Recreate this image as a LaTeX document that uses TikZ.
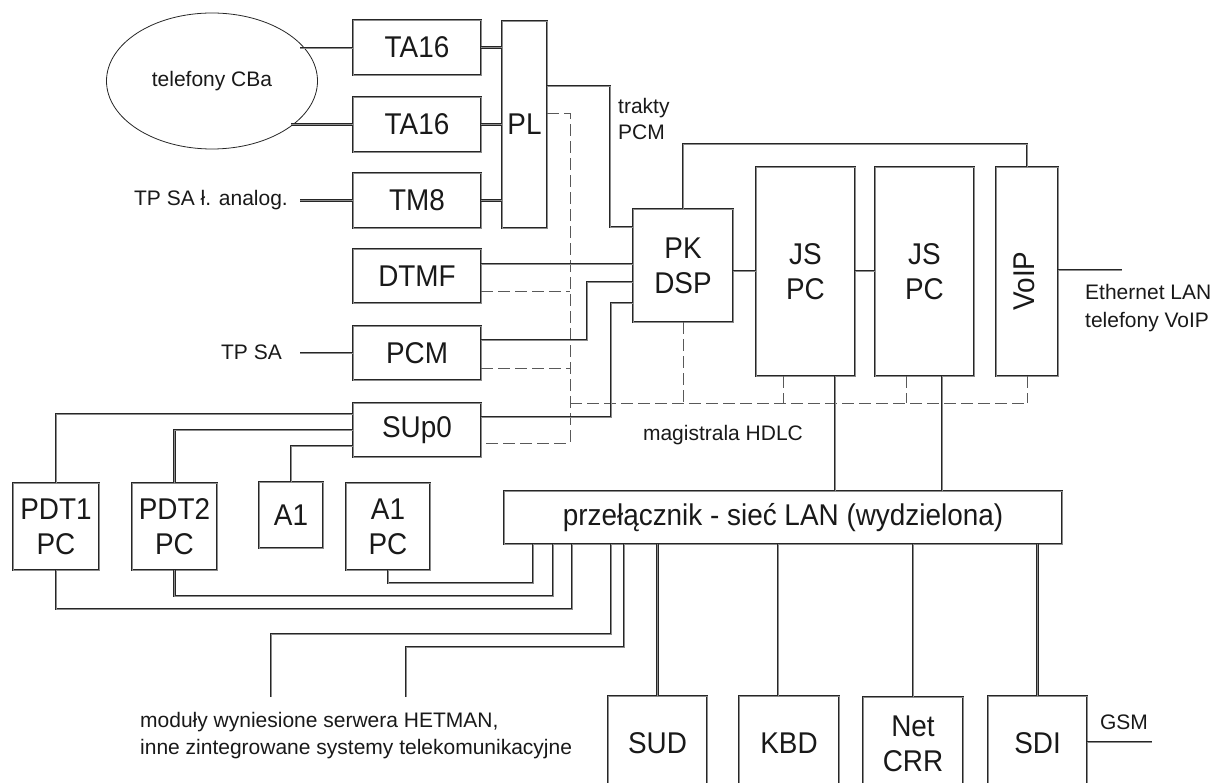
\documentclass[tikz,border=0pt]{standalone}
\usepackage{fontspec}
\setmainfont{Liberation Sans}
\newfontfamily\narrowf{Liberation Sans}[FakeStretch=0.93]
\usetikzlibrary{shapes.geometric}
\newcommand\bigf{\narrowf\fontsize{30}{35}\selectfont}
\newcommand\smf{\fontsize{21}{27}\selectfont}
\begin{document}
\begin{tikzpicture}[x=1pt,y=-1pt,
  ln/.style={draw=black!85, line width=0.85pt, double=black!45, double distance=0.8pt},
  box/.style={ln, rectangle, inner sep=0pt, font=\bigf, align=center, text=black!90},
  dsh/.style={draw=black!65, line width=0.9pt, dash pattern=on 12pt off 5pt},
  lbl/.style={font=\smf, inner sep=0pt, text=black!90, align=left}]
\useasboundingbox (0,0) rectangle (1213,783);

% ---------- nodes ----------
\node[ellipse, draw=black!85, line width=0.8pt, minimum width=211, minimum height=136, inner sep=0pt, font=\smf, text=black!90] (cba) at (212,81) {telefony CBa};

\node[box, minimum width=128, minimum height=55] (ta1) at (417,47.5) {TA16};
\node[box, minimum width=128, minimum height=55] (ta2) at (417,124.5) {TA16};
\node[box, minimum width=128, minimum height=55] (tm8) at (417,200.5) {TM8};
\node[box, minimum width=128, minimum height=54] (dtmf) at (417,276) {DTMF};
\node[box, minimum width=128, minimum height=54] (pcm) at (417,353) {PCM};
\node[box, minimum width=128, minimum height=54] (sup) at (417,430) {SUp0};
\node[box, minimum width=45, minimum height=207] (pl) at (524.5,124.5) {PL};

\node[box, minimum width=100, minimum height=113] (pk) at (683,265.5) {PK\\DSP};
\node[box, minimum width=99, minimum height=209] (js1) at (805.5,271.5) {JS\\PC};
\node[box, minimum width=99, minimum height=209] (js2) at (924.5,271.5) {JS\\PC};
\node[box, minimum width=62, minimum height=209] (voip) at (1027,271.5) {};
\node[font=\bigf, rotate=90, inner sep=0pt, text=black!90] (voipt) at (1024,281) {VoIP};

\node[box, minimum width=558, minimum height=53] (sw) at (783,517.5) {przełącznik - sieć LAN (wydzielona)};

\node[box, minimum width=86, minimum height=87] (pdt1) at (56,526.5) {PDT1\\PC};
\node[box, minimum width=85, minimum height=87] (pdt2) at (174.5,526.5) {PDT2\\PC};
\node[box, minimum width=64, minimum height=66] (a1) at (291,515) {A1};
\node[box, minimum width=84, minimum height=87] (a1pc) at (388,526.5) {A1\\PC};

\node[box, minimum width=99, minimum height=94] (sud) at (657.5,743) {SUD};
\node[box, minimum width=100, minimum height=94] (kbd) at (789,743) {KBD};
\node[box, minimum width=100, minimum height=94] (net) at (913,744) {Net\\CRR};
\node[box, minimum width=99, minimum height=94] (sdi) at (1037.5,743) {SDI};

% ---------- labels ----------
\node[lbl, anchor=east] (tpa) at (288,200) {TP SA ł. analog.};
\node[lbl, anchor=east] (tps) at (282,352) {TP SA};
\node[lbl, anchor=west, font=\fontsize{21}{26}\selectfont] (trk) at (618,119) {trakty\\PCM};
\node[lbl, anchor=west, font=\fontsize{21}{28}\selectfont] (eth) at (1085,308) {Ethernet LAN\\telefony VoIP};
\node[lbl] (hdlc) at (723,435) {magistrala HDLC};
\node[lbl] (gsm) at (1124,722) {GSM};
\node[lbl, anchor=west] (mod) at (140,736) {moduły wyniesione serwera HETMAN,\\inne zintegrowane systemy telekomunikacyjne};

% ---------- free ends ----------
\coordinate (c1) at (300,48);
\coordinate (c2) at (291,124.5);
\coordinate (c3) at (300,200.5);
\coordinate (c4) at (300,353);
\coordinate (c5) at (1122,270);
\coordinate (c6) at (1152,742);
\coordinate (m1) at (271,697);
\coordinate (m2) at (406,697);

% ---------- dashed HDLC ----------
\draw[dsh] (pl.east |- 0,113) -| (570,443) -- (sup.east |- 0,443);
\draw[dsh] (dtmf.east |- 0,291) -- (570,291);
\draw[dsh] (pcm.east |- 0,368) -- (570,368);
\draw[dsh] (570,403) -- (1027,403);
\draw[dsh] (pk.south) -- (683,403);
\draw[dsh] (783,0 |- js1.south) -- (783,403);
\draw[dsh] (906,0 |- js2.south) -- (906,403);
\draw[dsh] (voip.south) -- (1027,403);

% ---------- solid connectors ----------
\draw[ln] (c1) -- (c1 -| ta1.west);
\draw[ln] (c2) -- (c2 -| ta2.west);
\draw[ln] (c3) -- (tm8.west);
\draw[ln] (c4) -- (pcm.west);
\draw[ln] (ta1.east) -- (ta1.east -| pl.west);
\draw[ln] (ta2.east) -- (ta2.east -| pl.west);
\draw[ln] (tm8.east) -- (tm8.east -| pl.west);

\draw[ln] (pl.east |- 0,86) -| (610,227) -- (pk.west |- 0,227);
\draw[ln] (dtmf.east |- 0,264) -- (pk.west |- 0,264);
\draw[ln] (pcm.east |- 0,340) -| (587,282) -- (pk.west |- 0,282);
\draw[ln] (sup.east |- 0,417) -| (611,303) -- (pk.west |- 0,303);

\draw[ln] (pk.north) |- (1027,144) -- (voip.north);
\draw[ln] (pk.east |- 0,271) -- (js1.west |- 0,271);
\draw[ln] (js1.east |- 0,271) -- (js2.west |- 0,271);
\draw[ln] (voip.east |- c5) -- (c5);

\draw[ln] (835,0 |- js1.south) -- (835,0 |- sw.north);
\draw[ln] (942,0 |- js2.south) -- (942,0 |- sw.north);

\draw[ln] (sup.west |- 0,414) -| (pdt1.north);
\draw[ln] (sup.west |- 0,430) -| (pdt2.north);
\draw[ln] (sup.west |- 0,446) -| (a1.north);

\draw[ln] (a1pc.south) |- (533,583) -- (533,0 |- sw.south);
\draw[ln] (pdt2.south) |- (553,596) -- (553,0 |- sw.south);
\draw[ln] (pdt1.south) |- (572,609) -- (572,0 |- sw.south);
\draw[ln] (m1) |- (611,634) -- (611,0 |- sw.south);
\draw[ln] (m2) |- (624,647) -- (624,0 |- sw.south);

\draw[ln] (sud.north |- sw.south) -- (sud.north);
\draw[ln] (778,0 |- sw.south) -- (778,0 |- kbd.north);
\draw[ln] (913,0 |- sw.south) -- (net.north);
\draw[ln] (1037.5,0 |- sw.south) -- (sdi.north);
\draw[ln] (sdi.east |- c6) -- (c6);
\end{tikzpicture}
\end{document}
